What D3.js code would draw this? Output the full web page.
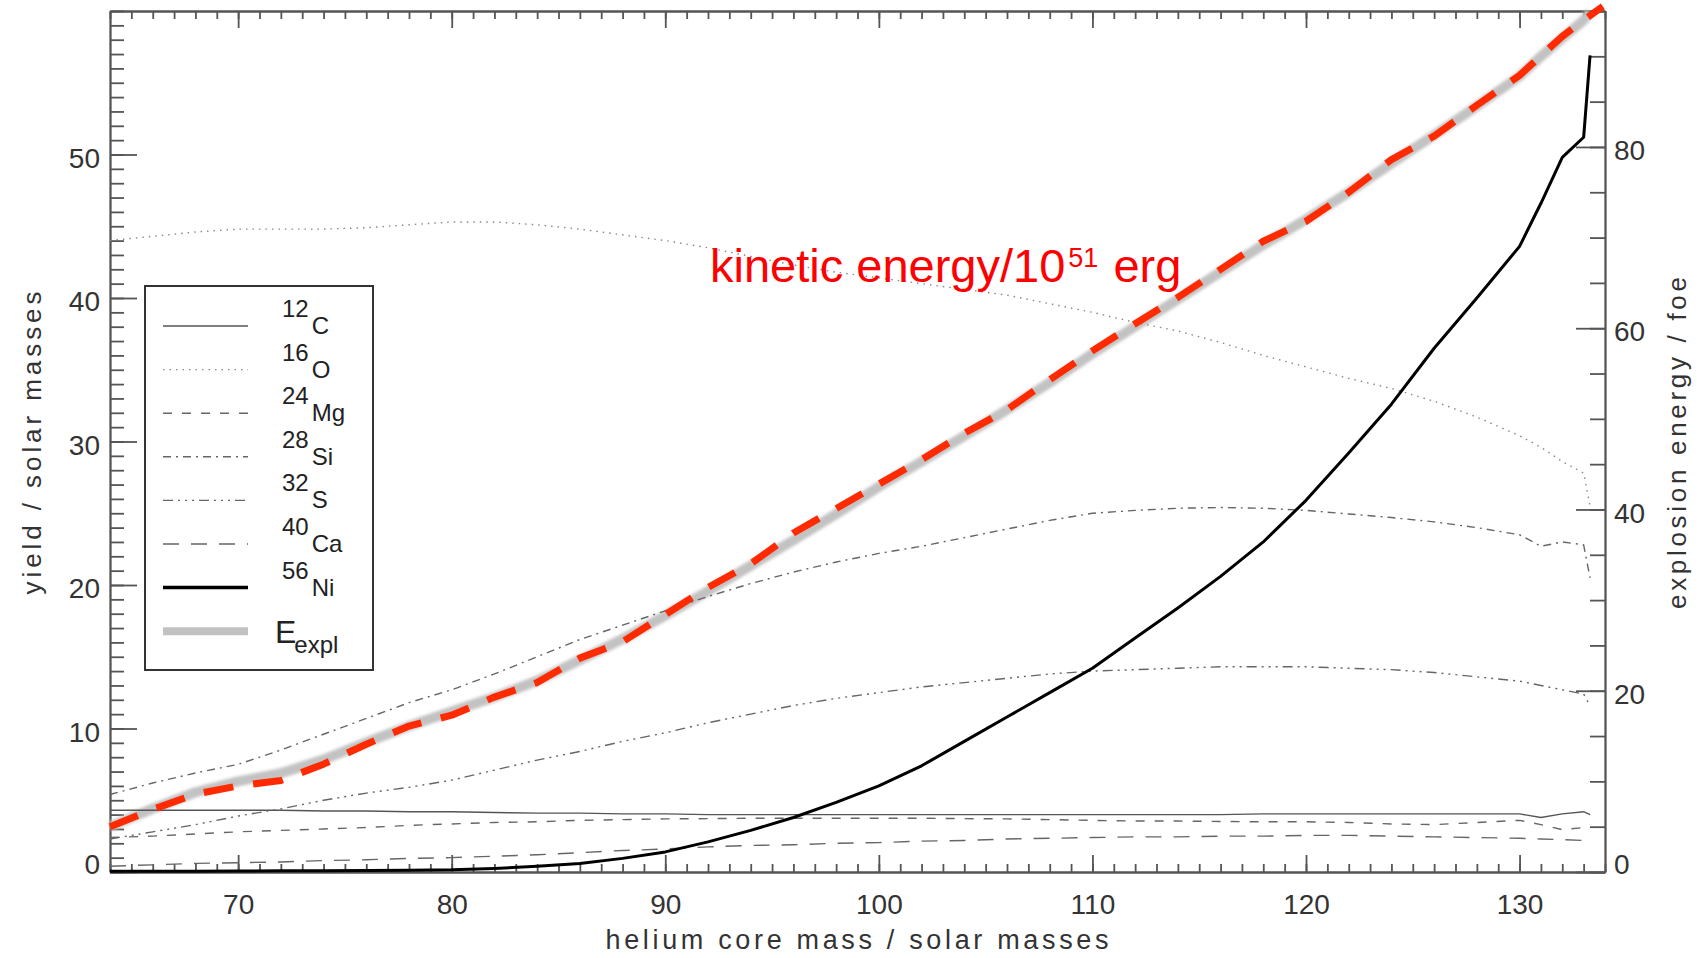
<!DOCTYPE html>
<html><head><meta charset="utf-8">
<script src="https://cdn.jsdelivr.net/npm/d3@7"></script>
<style>
body{margin:0;background:#fff;}
svg{display:block;}
text{font-family:"Liberation Sans", Arial, Helvetica, sans-serif;}
</style></head><body>
<svg id="chart" width="1705" height="958"></svg>
<script>
// ---------------- data ----------------
const mass = [64,66,68,70,72,74,76,78,80,82,84,86,88,90,92,94,96,98,100,102,104,106,108,110,112,114,116,118,120,122,124,126,128,130,131,132,133,133.3];
const yieldC12 = [4.3,4.3,4.3,4.3,4.3,4.25,4.25,4.2,4.2,4.15,4.1,4.1,4.05,4.05,4.0,4.0,4.0,4.0,4.0,4.0,4.0,4.0,4.0,4.0,4.0,4.0,4.0,4.05,4.05,4.05,4.05,4.05,4.05,4.05,3.8,4.05,4.2,4.0];
const yieldO16 = [44.0,44.3,44.6,44.8,44.8,44.8,44.9,45.1,45.3,45.3,45.1,44.8,44.4,44.0,43.5,42.9,42.3,41.8,41.4,41.0,40.6,40.2,39.6,39.0,38.3,37.7,36.9,36.0,35.2,34.4,33.7,32.8,31.7,30.4,29.6,28.6,27.8,25.5];
const yieldMg24 = [2.4,2.5,2.65,2.8,2.9,3.0,3.1,3.25,3.35,3.45,3.5,3.6,3.65,3.7,3.72,3.75,3.75,3.75,3.75,3.75,3.72,3.7,3.65,3.6,3.55,3.55,3.52,3.5,3.5,3.45,3.35,3.3,3.45,3.6,3.3,2.95,3.1,3.2];
const yieldSi28 = [5.4,6.2,6.9,7.5,8.5,9.6,10.7,11.8,12.7,13.8,15.0,16.2,17.2,18.2,19.2,20.1,20.9,21.6,22.2,22.7,23.3,23.9,24.5,25.0,25.2,25.35,25.4,25.35,25.2,24.95,24.7,24.4,24.0,23.5,22.7,23.0,22.8,20.5];
const yieldS32 = [2.3,2.8,3.3,3.9,4.4,5.0,5.5,5.9,6.4,7.1,7.8,8.4,9.1,9.7,10.4,11.0,11.6,12.1,12.5,12.9,13.2,13.5,13.8,14.0,14.1,14.2,14.3,14.3,14.3,14.2,14.1,13.9,13.6,13.3,13.0,12.7,12.4,11.6];
const yieldCa40 = [0.4,0.5,0.6,0.65,0.7,0.8,0.85,0.95,1.0,1.1,1.2,1.35,1.5,1.6,1.75,1.85,1.9,2.0,2.05,2.15,2.2,2.3,2.35,2.4,2.45,2.45,2.5,2.5,2.55,2.55,2.5,2.45,2.4,2.35,2.3,2.25,2.2,null];
const yieldNi56 = [0.05,0.05,0.06,0.07,0.08,0.09,0.1,0.12,0.15,0.25,0.4,0.6,0.95,1.4,2.1,2.9,3.8,4.85,6.0,7.4,9.1,10.8,12.5,14.2,16.3,18.4,20.6,23.0,25.9,29.2,32.6,36.5,40.0,43.6,46.6,49.8,51.2,56.9];
const energyExpl = [5.0,7.0,8.8,10.0,10.9,12.4,14.3,16.1,17.7,19.3,21.1,23.4,25.7,28.3,31.0,33.8,36.6,39.5,42.5,45.3,48.1,51.0,54.0,57.2,60.2,63.2,66.2,69.2,72.0,75.0,78.2,81.3,84.5,87.8,90.0,92.0,94.0,94.8];
const kineticMass = [64,66,68,70,72,74,76,78,80,82,84,86,88,90,92,94,96,98,100,102,104,106,108,110,112,114,116,118,120,122,124,126,128,130,132,133,133.9];
const kineticEnergy = [5.0,6.9,8.6,9.5,10.1,11.9,14.1,16.1,17.3,19.3,20.9,23.6,25.4,28.4,31.4,34.0,37.4,40.1,42.8,45.5,48.4,51.0,54.3,57.5,60.5,63.4,66.5,69.6,71.8,75.0,78.6,81.2,84.6,87.9,92.2,94.0,95.5];

const xTicksMajor = [70,80,90,100,110,120,130];
const yLeftTicksMajor = [0,10,20,30,40,50];
const yRightTicksMajor = [0,20,40,60,80];
const legendNumbers = ["12","16","24","28","32","40","56"];
const legendElements = ["C","O","Mg","Si","S","Ca","Ni"];
const xTitle = "helium core mass / solar masses";
const yLeftTitle = "yield / solar masses";
const yRightTitle = "explosion energy / foe";

// ---------------- layout ----------------
const svg = d3.select("#chart");
const L = 110, R = 1605, T = 11, B = 872;
const x = d3.scaleLinear().domain([64,134]).range([L,R]);
const yL = d3.scaleLinear().domain([0,60]).range([B,T]);
const yR = d3.scaleLinear().domain([0,95]).range([B,T]);

const axisColor = "#555";
function styleAxis(g){
  g.selectAll("path,line").attr("stroke",axisColor).attr("stroke-width",1.8);
  g.selectAll("text").attr("fill","#333").style("font-size","28px")
   .attr("font-family","'Liberation Sans', Arial, sans-serif");
}

// bottom axis
svg.append("g").attr("transform",`translate(0,${B})`)
  .call(d3.axisBottom(x).tickValues(d3.range(64,135)).tickSize(-8).tickSizeOuter(0).tickFormat(""))
  .call(styleAxis);
svg.append("g").attr("transform",`translate(0,${B})`)
  .call(d3.axisBottom(x).tickValues(xTicksMajor).tickSize(-17).tickSizeOuter(0).tickPadding(22).tickFormat(d3.format("d")))
  .call(styleAxis);
// top axis
svg.append("g").attr("transform",`translate(0,${T})`)
  .call(d3.axisTop(x).tickValues(d3.range(64,135)).tickSize(-8).tickSizeOuter(0).tickFormat(""))
  .call(styleAxis);
svg.append("g").attr("transform",`translate(0,${T})`)
  .call(d3.axisTop(x).tickValues(xTicksMajor).tickSize(-17).tickSizeOuter(0).tickFormat(""))
  .call(styleAxis);
// left axis
svg.append("g").attr("transform",`translate(${L},0)`)
  .call(d3.axisLeft(yL).tickValues(d3.range(0,61)).tickSize(-14).tickSizeOuter(0).tickFormat(""))
  .call(styleAxis);
const gLeft = svg.append("g").attr("transform",`translate(${L},0)`)
  .call(d3.axisLeft(yL).tickValues(yLeftTicksMajor).tickSize(-27).tickSizeOuter(0).tickPadding(10).tickFormat(d3.format("d")))
  .call(styleAxis);
gLeft.selectAll(".tick text").attr("dy", d => d === 0 ? "0.06em" : "0.45em");
// right axis
svg.append("g").attr("transform",`translate(${R},0)`)
  .call(d3.axisRight(yR).tickValues(d3.range(0,96,5)).tickSize(-15).tickSizeOuter(0).tickFormat(""))
  .call(styleAxis);
const gRight = svg.append("g").attr("transform",`translate(${R},0)`)
  .call(d3.axisRight(yR).tickValues(yRightTicksMajor).tickSize(-29).tickSizeOuter(0).tickPadding(9).tickFormat(d3.format("d")))
  .call(styleAxis);
gRight.selectAll(".tick text").attr("dy", d => d === 0 ? "0.06em" : "0.45em");

// axis titles
svg.append("text").attr("x",857).attr("y",949).attr("text-anchor","middle")
  .attr("fill","#333").style("font-size","27px")
  .attr("textLength",503).attr("lengthAdjust","spacing").text(xTitle);
svg.append("text").attr("transform","translate(41,443) rotate(-90)").attr("text-anchor","middle")
  .attr("fill","#333").style("font-size","26px")
  .attr("textLength",303).attr("lengthAdjust","spacing").text(yLeftTitle);
svg.append("text").attr("transform","translate(1686,443) rotate(-90)").attr("text-anchor","middle")
  .attr("fill","#333").style("font-size","26px")
  .attr("textLength",332).attr("lengthAdjust","spacing").text(yRightTitle);

// ---------------- series ----------------
const defs = svg.append("defs");
defs.append("filter").attr("id","soft").attr("x","-5%").attr("y","-5%").attr("width","110%").attr("height","110%")
  .append("feGaussianBlur").attr("stdDeviation",1.4);

const styles = {
  C:  {stroke:"#555", width:1.4, dash:null},
  O:  {stroke:"#888", width:1.4, dash:"1.5,5"},
  Mg: {stroke:"#666", width:1.4, dash:"9,10"},
  Si: {stroke:"#666", width:1.4, dash:"8,5,2,5"},
  S:  {stroke:"#666", width:1.4, dash:"10,5,2,5,2,5,2,5"},
  Ca: {stroke:"#666", width:1.4, dash:"16,12"},
  Ni: {stroke:"#000", width:3, dash:null},
  E:  {stroke:"#c2c2c2", width:10, dash:null}
};
const seriesY = {C:yieldC12, O:yieldO16, Mg:yieldMg24, Si:yieldSi28, S:yieldS32, Ca:yieldCa40};
const lineL = d3.line().defined(d => d[1] != null).x(d => x(d[0])).y(d => yL(d[1]));
const lineR = d3.line().defined(d => d[1] != null).x(d => x(d[0])).y(d => yR(d[1]));
const plot = svg.append("g");

// explosion energy (gray band, right axis)
plot.append("path").datum(mass.map((m,i)=>[m,energyExpl[i]]))
  .attr("d",lineR).attr("fill","none").attr("stroke",styles.E.stroke)
  .attr("stroke-width",styles.E.width).attr("stroke-linejoin","round").attr("filter","url(#soft)");

["C","O","Mg","Si","S","Ca"].forEach(k=>{
  const st = styles[k];
  plot.append("path").datum(mass.map((m,i)=>[m,seriesY[k][i]]))
    .attr("d",lineL).attr("fill","none").attr("stroke",st.stroke)
    .attr("stroke-width",st.width).attr("stroke-dasharray",st.dash);
});
plot.append("path").datum(mass.map((m,i)=>[m,yieldNi56[i]]))
  .attr("d",lineL).attr("fill","none").attr("stroke",styles.Ni.stroke)
  .attr("stroke-width",styles.Ni.width).attr("stroke-linejoin","round");

// kinetic energy annotation (red dashed, right axis)
plot.append("path").datum(kineticMass.map((m,i)=>[m,kineticEnergy[i]]))
  .attr("d",lineR).attr("fill","none").attr("stroke","#ff2a00")
  .attr("stroke-width",7).attr("stroke-dasharray","30,20").attr("stroke-linejoin","round");

const ann = svg.append("text").attr("x",710).attr("y",282).attr("fill","#ff0000").style("font-size","47px");
ann.append("tspan").text("kinetic energy/10");
ann.append("tspan").attr("dx",3).attr("dy",-15).style("font-size","27px").text("51");
ann.append("tspan").attr("dx",2).attr("dy",15).text(" erg");

// ---------------- legend ----------------
const lg = svg.append("g");
lg.append("rect").attr("x",145).attr("y",286).attr("width",228).attr("height",384)
  .attr("fill","none").attr("stroke","#333").attr("stroke-width",2);
const keys = ["C","O","Mg","Si","S","Ca","Ni","E"];
keys.forEach((k,i)=>{
  const yy = 326 + i*43.6;
  const st = styles[k];
  lg.append("line").attr("x1",163).attr("x2",248).attr("y1",yy).attr("y2",yy)
    .attr("stroke",st.stroke).attr("stroke-width", k==="Ni"?3.5:(k==="E"?8:st.width))
    .attr("stroke-dasharray",st.dash);
  if (i < legendNumbers.length) {
    const t = lg.append("text").attr("x",282).attr("y",yy-9).attr("fill","#222").style("font-size","24px");
    t.append("tspan").text(legendNumbers[i]);
    t.append("tspan").attr("dx",3).attr("dy",17).text(legendElements[i]);
  } else {
    const t = lg.append("text").attr("x",275).attr("y",yy+12).attr("fill","#222").style("font-size","32px");
    t.append("tspan").text("E");
    t.append("tspan").attr("dx",-2).attr("dy",10).style("font-size","24px").text("expl");
  }
});
</script>
</body></html>
